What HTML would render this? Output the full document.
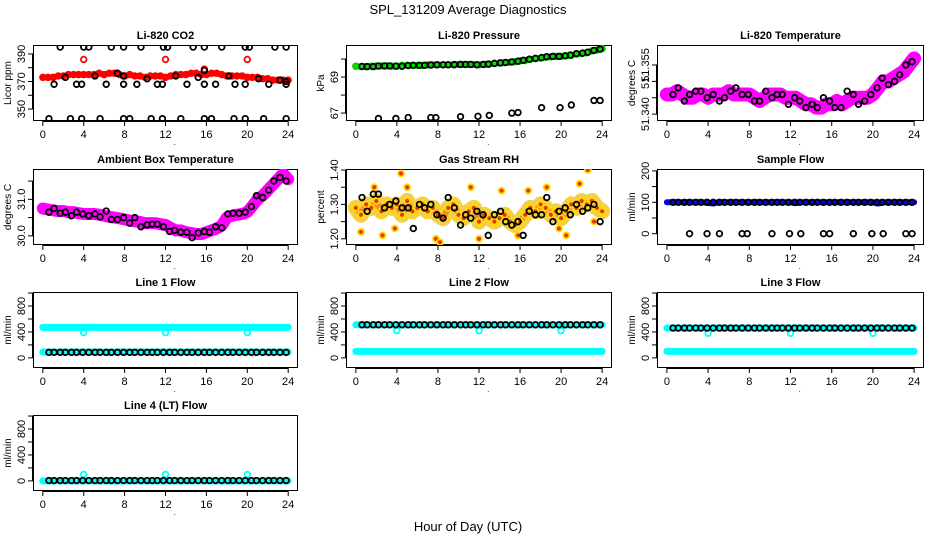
<!DOCTYPE html>
<html><head><meta charset="utf-8">
<style>
html,body{margin:0;padding:0;background:#fff;}
svg{display:block;font-family:"Liberation Sans",Arial,sans-serif;}
</style></head>
<body>
<svg id="c" width="936" height="540" viewBox="0 0 936 540" xmlns="http://www.w3.org/2000/svg">
<text x="468" y="14" text-anchor="middle" font-size="13">SPL_131209  Average Diagnostics</text>
<text x="468" y="531" text-anchor="middle" font-size="13">Hour of Day (UTC)</text>
</svg>
<script>
const HALF=[0,0.5,1,1.5,2,2.5,3,3.5,4,4.5,5,5.5,6,6.5,7,7.5,8,8.5,9,9.5,10,10.5,11,11.5,12,12.5,13,13.5,14,14.5,15,15.5,16,16.5,17,17.5,18,18.5,19,19.5,20,20.5,21,21.5,22,22.5,23,23.5,24];
const BLACK_X=[0.6,1.1,1.7,2.2,2.8,3.3,3.9,4.5,5.1,5.6,6.2,6.7,7.3,7.9,8.5,9.0,9.6,10.2,10.7,11.2,11.8,12.4,12.9,13.5,14.1,14.6,15.2,15.8,16.3,16.9,17.5,18.1,18.6,19.2,19.8,20.4,20.9,21.5,22.1,22.6,23.2,23.8];
const OUT_X=[4,12,20];
const ZERO_X=[2.2,3.9,5.1,7.3,7.8,10.2,11.9,13.0,15.2,15.8,18.1,19.9,21.0,23.2,23.8];
const X_TICKS=[0,4,8,12,16,20,24];

const CO2_RED=[373,373,373,374,374,375,375,375,375,375,375,376,375,376,376,375,374,375,374,374,373,374,374,374,373,374,375,375,375,376,376,375,375,376,376,375,374,374,374,374,373,373,373,372,372,371,371,371,371];
const CO2_RED_OUT_X=[4,12,15.8,20];
const CO2_RED_OUT_Y=[386,386,379,386];
const CO2_TOP_X=[1.7,4.0,4.5,6.7,7.9,9.6,11.8,12.2,14.7,15.8,17.5,19.8,20.2,22.7,23.8];
const CO2_TOP_Y=395;
const CO2_MID_X=[1.1,3.3,3.8,6.2,7.9,9.2,11.2,11.7,14.1,15.8,16.9,18.8,19.8,22.1,23.8];
const CO2_MID_Y=368;
const CO2_BOT_X=[0.6,2.7,3.8,5.6,7.9,8.5,10.6,11.7,13.5,15.8,16.5,18.7,19.8,21.6,23.8];
const CO2_BOT_Y=343;
const CO2_ON_X=[2.2,5.1,7.3,7.9,10.2,13.0,15.2,15.8,18.2,21.1,23.2,23.8];
const CO2_ON_Y=[373,374,376,374,372,374,373,378,374,372,371,370];

const PRES_GREEN=[69.60,69.58,69.58,69.60,69.62,69.62,69.62,69.60,69.60,69.65,69.65,69.65,69.65,69.65,69.68,69.68,69.68,69.68,69.68,69.68,69.70,69.70,69.70,69.70,69.68,69.70,69.72,69.75,69.78,69.80,69.82,69.85,69.90,69.92,69.98,70.02,70.05,70.10,70.12,70.15,70.15,70.18,70.20,70.28,70.30,70.35,70.45,70.50,70.58];
const PRES_BLACK=[69.59,69.58,69.58,69.61,69.62,69.62,69.61,69.60,69.64,69.65,69.65,69.65,69.67,69.68,69.68,69.68,69.69,69.70,69.70,69.70,69.68,69.70,69.72,69.76,69.79,69.81,69.84,69.88,69.93,69.99,70.04,70.08,70.13,70.15,70.15,70.18,70.22,70.30,70.33,70.38,70.48,70.55];
const PRES_LOW=[66.70,66.70,66.75,66.75,66.75,66.80,66.82,66.87,67.00,67.03,67.30,67.30,67.45,67.70,67.70];

const TEMP_MAG=[51.346,51.346,51.347,51.346,51.345,51.345,51.346,51.346,51.345,51.346,51.346,51.346,51.347,51.346,51.346,51.346,51.346,51.345,51.344,51.345,51.346,51.346,51.346,51.345,51.345,51.345,51.344,51.343,51.343,51.342,51.342,51.343,51.343,51.344,51.343,51.344,51.345,51.345,51.345,51.345,51.346,51.348,51.350,51.350,51.351,51.352,51.353,51.355,51.357];
const TEMP_BLACK=[51.346,51.348,51.344,51.346,51.347,51.347,51.345,51.346,51.344,51.345,51.347,51.348,51.346,51.346,51.344,51.344,51.347,51.345,51.346,51.346,51.343,51.345,51.344,51.342,51.343,51.342,51.345,51.344,51.342,51.342,51.347,51.346,51.343,51.344,51.346,51.348,51.351,51.349,51.350,51.352,51.355,51.356];

const AMB_MAG=[30.75,30.72,30.70,30.68,30.68,30.65,30.65,30.62,30.60,30.60,30.60,30.58,30.55,30.52,30.50,30.48,30.45,30.42,30.40,30.38,30.35,30.35,30.35,30.32,30.30,30.22,30.15,30.15,30.10,30.08,30.05,30.05,30.10,30.15,30.20,30.28,30.50,30.55,30.58,30.60,30.65,30.82,31.00,31.10,31.25,31.40,31.55,31.70,31.55];
const AMB_BLACK=[30.65,30.75,30.62,30.65,30.55,30.65,30.60,30.55,30.60,30.52,30.68,30.45,30.45,30.50,30.35,30.50,30.25,30.30,30.32,30.32,30.25,30.12,30.15,30.10,30.10,29.95,30.08,30.12,30.10,30.25,30.22,30.60,30.62,30.62,30.65,30.80,31.10,31.05,31.25,31.50,31.60,31.50];

const RH_CLOUD=[1.29,1.27,1.30,1.29,1.31,1.28,1.30,1.29,1.30,1.27,1.31,1.28,1.29,1.30,1.28,1.29,1.27,1.26,1.29,1.30,1.27,1.26,1.28,1.29,1.25,1.27,1.26,1.25,1.26,1.27,1.25,1.24,1.25,1.27,1.29,1.28,1.30,1.29,1.27,1.28,1.26,1.28,1.30,1.29,1.31,1.30,1.31,1.29,1.28];
const RH_OUT_X=[0.5,1.8,2.6,3.8,4.4,5.0,7.8,8.2,11.2,12.0,14.2,15.8,16.8,18.6,19.8,20.5,21.8,22.6,23.2];
const RH_OUT_Y=[1.22,1.35,1.21,1.23,1.39,1.35,1.20,1.19,1.35,1.20,1.34,1.21,1.34,1.35,1.23,1.21,1.36,1.40,1.25];
const RH_BLACK=[1.32,1.28,1.33,1.33,1.29,1.30,1.31,1.29,1.29,1.23,1.30,1.29,1.30,1.27,1.26,1.32,1.29,1.24,1.27,1.26,1.28,1.27,1.21,1.27,1.28,1.25,1.24,1.25,1.21,1.28,1.27,1.27,1.32,1.25,1.28,1.29,1.27,1.30,1.28,1.29,1.30,1.25];

const SAMPLE_BLUE=[100,100,100,100,100,100,100,100,98,96,100,100,100,100,100,100,100,100,100,100,100,100,100,100,100,97,100,100,100,100,100,100,100,100,100,100,100,100,100,100,100,96,100,100,100,100,100,100,100];
const SAMPLE_BLACK=100;
const SAMPLE_ZERO=0;

const L1_HI=470, L1_LO=90, L1_BLACK=85, L1_OUT=390;
const L2_HI=510, L2_LO=100, L2_BLACK=510, L2_OUT=420;
const L3_HI=460, L3_LO=100, L3_BLACK=460, L3_OUT=380;
const L4_HI=0, L4_BLACK=5, L4_OUT=100;

const NS="http://www.w3.org/2000/svg";
const svg=document.getElementById('c');
const COLS=[33,346,657], WIDTHS=[265,266,267], ROWS=[45,169,292,415], H=76;

function mk(tag,attrs,parent){const e=document.createElementNS(NS,tag);for(const k in attrs)e.setAttribute(k,attrs[k]);(parent||svg).appendChild(e);return e;}

function panel(col,row,title,ylab,ymin,ymax,ticks,labels,name){
  const L=COLS[col],W=WIDTHS[col],T=ROWS[row];
  const g=mk('g',{});
  
  
  const xs=v=>L+(v+0.96)/25.92*W;
  const ys=v=>T+H-(v-ymin)/(ymax-ymin)*H;
  const clip='clip-'+name;
  const cp=mk('clipPath',{id:clip},g);mk('rect',{x:L,y:T,width:W,height:H},cp);
  const t=mk('text',{x:L+W/2,y:T-6,'text-anchor':'middle','font-size':11,'font-weight':'bold'},g);t.textContent=title;
  
  
  const yl=mk('text',{x:0,y:0,'text-anchor':'middle','font-size':10,transform:`translate(${L-22},${T+H/2}) rotate(-90)`},g);yl.textContent=ylab;
  
  
  const ax=mk('g',{},g);
  
  
  mk('line',{x1:xs(0),x2:xs(24),y1:T+H+0.5,y2:T+H+0.5,stroke:'#000'},ax);
  X_TICKS.forEach(v=>{mk('line',{x1:xs(v),x2:xs(v),y1:T+H,y2:T+H+5,stroke:'#000'},ax);
    const tl=mk('text',{x:xs(v),y:T+H+17,'text-anchor':'middle','font-size':11},ax);tl.textContent=v;});
  const dot=mk('text',{x:xs(12.9),y:T+H+24,'text-anchor':'middle','font-size':8},ax);dot.textContent='.';
  const ay=mk('g',{},g);
  
  
  mk('line',{x1:L-0.5,x2:L-0.5,y1:ys(ticks[0]),y2:ys(ticks[ticks.length-1]),stroke:'#000'},ay);
  ticks.forEach((v,i)=>{mk('line',{x1:L-5,x2:L,y1:ys(v),y2:ys(v),stroke:'#000'},ay);
    if(labels[i]!==''){const tl=mk('text',{x:0,y:0,'text-anchor':'middle','font-size':11,transform:`translate(${L-8},${ys(v)}) rotate(-90)`},ay);tl.textContent=labels[i];}});
  mk('rect',{x:L+0.5,y:T+0.5,width:W-1,height:H-1,fill:'none',stroke:'#000'},g);
  const plot=mk('g',{'clip-path':`url(#${clip})`},g);
  return {g:plot,xs,ys,name};
}
function band(p,X,Y,color,w,nm){
  const pl=mk('polyline',{points:X.map((x,i)=>p.xs(x)+','+p.ys(Y[i])).join(' '),fill:'none',stroke:color,'stroke-width':w,'stroke-linejoin':'round','stroke-linecap':'round'},p.g);
  
  
}
function pts(p,X,Y,color,nm,r,fillc){
  const gg=mk('g',{},p.g);
  
  
  X.forEach((x,i)=>{const y=Array.isArray(Y)?Y[i]:Y;
    mk('circle',{cx:p.xs(x),cy:p.ys(y),r:r||2.8,fill:fillc||'none',stroke:color,'stroke-width':1.8},gg);});
}
const c=(n,v)=>Array(n).fill(v);

// CO2
let p=panel(0,0,'Li-820 CO2','Licor ppm',341.3,396.5,[350,360,370,380,390],['350','','370','','390'],'co2');
band(p,HALF,CO2_RED,'#ff0000',6,'red-series');
pts(p,HALF,CO2_RED,'#ff0000','red-points');
pts(p,CO2_RED_OUT_X,CO2_RED_OUT_Y,'#ff0000','red-outliers');
pts(p,CO2_TOP_X,CO2_TOP_Y,'#000','black-top');
pts(p,CO2_MID_X,CO2_MID_Y,'#000','black-mid');
pts(p,CO2_BOT_X,CO2_BOT_Y,'#000','black-bottom');
pts(p,CO2_ON_X,CO2_ON_Y,'#000','black-avg');

// Pressure
p=panel(1,0,'Li-820 Pressure','kPa',66.56,70.78,[67,68,69,70],['67','','69',''],'pressure');
band(p,HALF,PRES_GREEN,'#00ee00',6,'green-series');
pts(p,HALF,PRES_GREEN,'#00cc00','green-points');
pts(p,BLACK_X,PRES_BLACK,'#000','black-avg');
pts(p,ZERO_X,PRES_LOW,'#000','black-low');

// Li820 temp
p=panel(2,0,'Li-820 Temperature','degrees C',51.3379,51.3611,[51.340,51.345,51.350,51.355],['51.340','','51.','51.355'],'li820-temp');
band(p,HALF,TEMP_MAG,'#ff00ff',14,'magenta-series');
pts(p,HALF,TEMP_MAG,'#ff00ff','magenta-points',3.2);
pts(p,BLACK_X,TEMP_BLACK,'#000','black-avg');

// Ambient
p=panel(0,1,'Ambient Box Temperature','degrees C',29.75,31.83,[30.0,30.5,31.0,31.5],['30.0','','31.0',''],'ambient-temp');
band(p,HALF,AMB_MAG,'#ff00ff',12,'magenta-series');
pts(p,HALF,AMB_MAG,'#ff00ff','magenta-points',3.2);
pts(p,BLACK_X,AMB_BLACK,'#000','black-avg');

// RH
p=panel(1,1,'Gas Stream RH','percent',1.182,1.403,[1.20,1.25,1.30,1.35,1.40],['1.20','','1.30','','1.40'],'rh');
band(p,HALF,RH_CLOUD,'#f5d040',16,'cloud-band');
band(p,HALF,RH_CLOUD,'#ec9030',6,'cloud-core');
pts(p,HALF,RH_CLOUD,'#ffdd00','cloud-points',3,'#ee3311');
pts(p,RH_OUT_X,RH_OUT_Y,'#ffdd00','cloud-outliers',3,'#ee3311');
pts(p,BLACK_X,RH_BLACK,'#000','black-avg');

// Sample flow
p=panel(2,1,'Sample Flow','ml/min',-36,206,[0,50,100,150,200],['0','','100','','200'],'sample-flow');
band(p,HALF,SAMPLE_BLUE,'#0000ff',6,'blue-series');
pts(p,BLACK_X,SAMPLE_BLACK,'#000','black-avg');
pts(p,ZERO_X,SAMPLE_ZERO,'#000','black-zero');

const FT=[0,200,400,600,800,1000], FL=['0','','400','','800',''];
function flow(col,row,title,name,hi,lo,black,out){
  const q=panel(col,row,title,'ml/min',-156,1016,FT,FL,name);
  band(q,HALF,c(49,hi),'#00ffff',7,'cyan-high');
  if(lo!==null) band(q,HALF,c(49,lo),'#00ffff',7,'cyan-low');
  pts(q,OUT_X,out,'#00ffff','cyan-outliers');
  pts(q,BLACK_X,black,'#000','black-avg');
}
flow(0,2,'Line 1 Flow','line1-flow',L1_HI,L1_LO,L1_BLACK,L1_OUT);
flow(1,2,'Line 2 Flow','line2-flow',L2_HI,L2_LO,L2_BLACK,L2_OUT);
flow(2,2,'Line 3 Flow','line3-flow',L3_HI,L3_LO,L3_BLACK,L3_OUT);
flow(0,3,'Line 4 (LT) Flow','line4-flow',L4_HI,null,L4_BLACK,L4_OUT);
</script>
</body></html>
